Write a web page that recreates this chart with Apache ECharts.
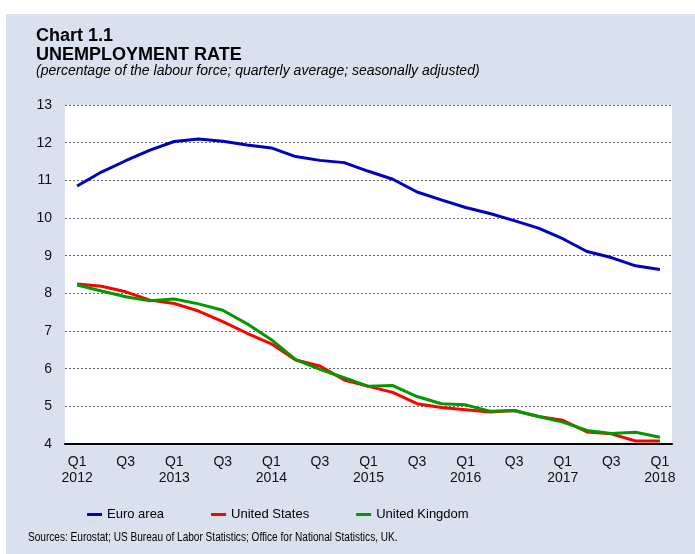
<!DOCTYPE html>
<html>
<head>
<meta charset="utf-8">
<script src="https://cdn.jsdelivr.net/npm/echarts@6/dist/echarts.min.js"></script>
<style>
  html, body { margin: 0; padding: 0; background: #fff; }
  #chart { position: absolute; left: 6px; top: 14px; width: 689px; height: 540px; background: #dae1ee; }
</style>
</head>
<body>
<div id="chart"></div>
<script>
// quarterly categories, Q1 2012 - Q1 2018
const quarters = [
  "Q1\n2012", "Q2", "Q3", "Q4",
  "Q1\n2013", "Q2", "Q3", "Q4",
  "Q1\n2014", "Q2", "Q3", "Q4",
  "Q1\n2015", "Q2", "Q3", "Q4",
  "Q1\n2016", "Q2", "Q3", "Q4",
  "Q1\n2017", "Q2", "Q3", "Q4",
  "Q1\n2018"
];
const euroArea = [10.85, 11.22, 11.52, 11.8, 12.03, 12.1, 12.04, 11.94, 11.86, 11.63, 11.53, 11.47,
  11.24, 11.03, 10.69, 10.48, 10.28, 10.12, 9.93, 9.73, 9.45, 9.11, 8.95, 8.73, 8.63];
const unitedStates = [8.25, 8.19, 8.04, 7.82, 7.73, 7.53, 7.25, 6.94, 6.66, 6.23, 6.07, 5.7,
  5.53, 5.37, 5.07, 4.97, 4.91, 4.85, 4.89, 4.73, 4.63, 4.32, 4.27, 4.08, 4.08];
const unitedKingdom = [8.22, 8.06, 7.91, 7.8, 7.85, 7.72, 7.55, 7.19, 6.77, 6.24, 5.98, 5.76,
  5.53, 5.55, 5.26, 5.07, 5.04, 4.87, 4.89, 4.73, 4.58, 4.36, 4.28, 4.31, 4.18];

const font = "'Liberation Sans', Arial, sans-serif";

const myChart = echarts.init(document.getElementById("chart"));

const option = {
  animation: false,
  title: [
    {
      text: "Chart 1.1",
      left: 25, top: 8,
      textStyle: { fontFamily: font, fontSize: 18, fontWeight: "bold", color: "#000" }
    },
    {
      text: "UNEMPLOYMENT RATE",
      left: 25, top: 27,
      textStyle: { fontFamily: font, fontSize: 18, fontWeight: "bold", color: "#000" }
    },
    {
      text: "(percentage of the labour force; quarterly average; seasonally adjusted)",
      left: 25, top: 45,
      textStyle: { fontFamily: font, fontSize: 14, fontStyle: "italic", fontWeight: "normal", color: "#000" }
    }
  ],
  // source note, squeezed horizontally like the narrow font of the original
  graphic: [
    {
      type: "text",
      left: 22,
      top: 518,
      scaleX: 0.84,
      style: {
        text: "Sources: Eurostat; US Bureau of Labor Statistics; Office for National Statistics, UK.",
        fontFamily: font,
        fontSize: 12,
        fill: "#000"
      }
    }
  ],
  legend: {
    left: 76,
    top: 489,
    itemWidth: 15,
    itemHeight: 3,
    itemGap: 47,
    icon: "rect",
    textStyle: { fontFamily: font, fontSize: 13, color: "#000" },
    data: ["Euro area", "United States", "United Kingdom"]
  },
  grid: {
    left: 59,
    right: 23,
    top: 91,
    bottom: 110,
    show: true,
    backgroundColor: "#fff",
    borderWidth: 0
  },
  xAxis: {
    type: "category",
    data: quarters,
    boundaryGap: true,
    axisLine: { lineStyle: { color: "#000", width: 2 } },
    axisTick: { show: false },
    axisLabel: {
      interval: 1,
      margin: 10,
      lineHeight: 16,
      fontFamily: font,
      fontSize: 14,
      color: "#111"
    }
  },
  yAxis: {
    type: "value",
    min: 4,
    max: 13,
    interval: 1,
    axisLine: { show: false },
    axisTick: { show: false },
    axisLabel: { margin: 13, fontFamily: font, fontSize: 14, color: "#111" },
    splitLine: { lineStyle: { color: "#666", width: 1, type: [2, 2] } }
  },
  series: [
    {
      name: "Euro area",
      type: "line",
      data: euroArea,
      showSymbol: false,
      lineStyle: { width: 3, color: "#0000c0" },
      itemStyle: { color: "#0000c0" }
    },
    {
      name: "United States",
      type: "line",
      data: unitedStates,
      showSymbol: false,
      lineStyle: { width: 3, color: "#ff0000" },
      itemStyle: { color: "#ff0000" }
    },
    {
      name: "United Kingdom",
      type: "line",
      data: unitedKingdom,
      showSymbol: false,
      lineStyle: { width: 3, color: "#009a00" },
      itemStyle: { color: "#009a00" }
    }
  ]
};
myChart.setOption(option);
</script>
</body>
</html>
